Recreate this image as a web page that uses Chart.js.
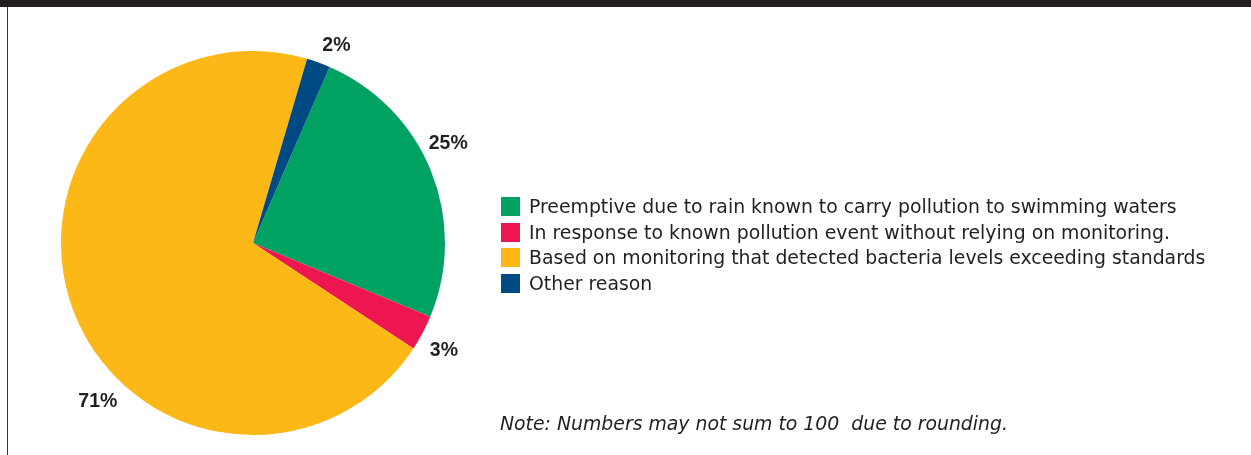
<!DOCTYPE html>
<html>
<head>
<meta charset="utf-8">
<script src="https://cdn.jsdelivr.net/npm/chart.js@4.4.0/dist/chart.umd.min.js"></script>
<style>
  html, body { margin: 0; padding: 0; background: #fff; }
  body { width: 1251px; height: 455px; position: relative; overflow: hidden; font-family: "DejaVu Sans", sans-serif; color: #231f20; }
  .topbar { position: absolute; left: 0; top: 0; width: 1251px; height: 7px; background: #231f20; }
  .leftrule { position: absolute; left: 7px; top: 7px; width: 1px; height: 448px; background: #3a3a3a; }
  .chart-wrap { position: absolute; left: 0; top: 0; width: 520px; height: 455px; }
  #legend { position: absolute; left: 501px; top: 194px; margin: 0; padding: 0; list-style: none; }
  #legend li { height: 25.5px; display: flex; align-items: center; font-size: 18.85px; }
  #legend li span.box { width: 19px; height: 19px; margin-right: 9px; flex: none; }
  .note { position: absolute; left: 500px; top: 413px; font-size: 18.85px; font-style: italic; white-space: pre; }
</style>
</head>
<body>
<div class="topbar"></div>
<div class="leftrule"></div>
<div class="chart-wrap"><canvas id="closingsPie"></canvas></div>
<ul id="legend"></ul>
<div class="note">Note: Numbers may not sum to 100  due to rounding.</div>
<script>
// Reasons for beach closings / advisories
const reasons = [
  'Preemptive due to rain known to carry pollution to swimming waters',
  'In response to known pollution event without relying on monitoring.',
  'Based on monitoring that detected bacteria levels exceeding standards',
  'Other reason'
];
const shares = [25, 3, 71, 2];
const sliceColors = ['#00a261', '#ed1651', '#fbb817', '#004a84'];

// small angular nudges (degrees) and gaps (px) so percentage labels sit where they read best
const labelNudge = [-5, 1.4, -25.5, 3];
const labelGap = [27, 27, 30, 22];

const pctLabels = {
  id: 'pctLabels',
  afterDraw(chart) {
    const ctx = chart.ctx;
    const meta = chart.getDatasetMeta(0);
    ctx.save();
    ctx.font = 'bold 19.5px "Liberation Sans", Arial, sans-serif';
    ctx.fillStyle = '#231f20';
    ctx.textAlign = 'center';
    ctx.textBaseline = 'middle';
    meta.data.forEach((arc, i) => {
      const a = (arc.startAngle + arc.endAngle) / 2 + labelNudge[i] * Math.PI / 180;
      const r = arc.outerRadius + labelGap[i];
      ctx.fillText(shares[i] + '%', arc.x + Math.cos(a) * r, arc.y + Math.sin(a) * r);
    });
    ctx.restore();
  }
};

new Chart(document.getElementById('closingsPie'), {
  type: 'pie',
  data: {
    labels: reasons,
    datasets: [{
      data: shares,
      backgroundColor: sliceColors,
      borderWidth: 0
    }]
  },
  options: {
    responsive: true,
    maintainAspectRatio: false,
    animation: false,
    rotation: 23.5,
    layout: { padding: { left: 61, top: 51, right: 75, bottom: 20 } },
    plugins: {
      legend: { display: false },
      tooltip: { enabled: false }
    }
  },
  plugins: [pctLabels]
});

// legend built from the same arrays
const legend = document.getElementById('legend');
reasons.forEach((txt, i) => {
  const li = document.createElement('li');
  const box = document.createElement('span');
  box.className = 'box';
  box.style.background = sliceColors[i];
  li.appendChild(box);
  li.appendChild(document.createTextNode(txt));
  legend.appendChild(li);
});
</script>
</body>
</html>
